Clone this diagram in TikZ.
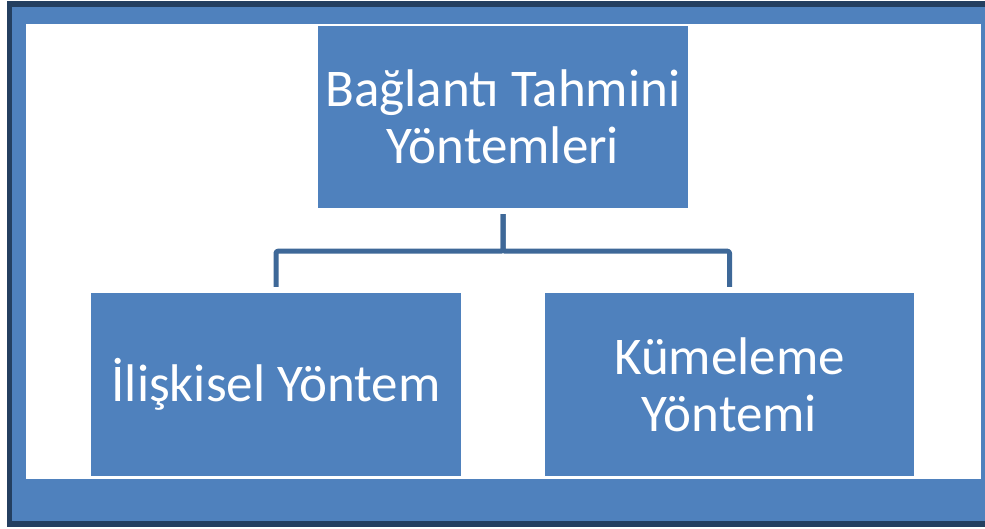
\documentclass[tikz,border=0pt]{standalone}
\usepackage{fontspec}
\setmainfont{Carlito}
\definecolor{boxblue}{HTML}{4F81BD}
\definecolor{darkframe}{HTML}{243F60}
\definecolor{linkblue}{HTML}{3E6898}
\begin{document}
\begin{tikzpicture}[x=1pt,y=-1pt,
  boxnode/.style={fill=boxblue, draw=none, text=white, inner sep=0pt, align=center,
    font=\fontsize{53}{57}\selectfont},
  link/.style={draw=linkblue, line width=5pt, line join=round, rounded corners=2pt,
    shorten <=6pt, shorten >=6pt}]
\useasboundingbox (0,0) rectangle (985,529);
\fill[white] (0,0) rectangle (985,529);
\fill[darkframe] (7,1) rectangle (990,527);
\fill[boxblue] (12,7) rectangle (990,521);
\fill[white] (26,24) rectangle (981,479);
\node[boxnode, minimum width=370pt, minimum height=182pt] (top) at (503,117) {Bağlantı Tahmini\\Yöntemleri};
\node[boxnode, minimum width=370pt, minimum height=183pt] (left) at (276,384.5) {İlişkisel Yöntem};
\node[boxnode, minimum width=369pt, minimum height=183pt] (right) at (729.5,384.5) {Kümeleme\\Yöntemi};
\draw[link] (top.south) -- ++(0,43) -| (left.north);
\draw[link] (top.south) -- ++(0,43) -| (right.north);
\end{tikzpicture}
\end{document}
